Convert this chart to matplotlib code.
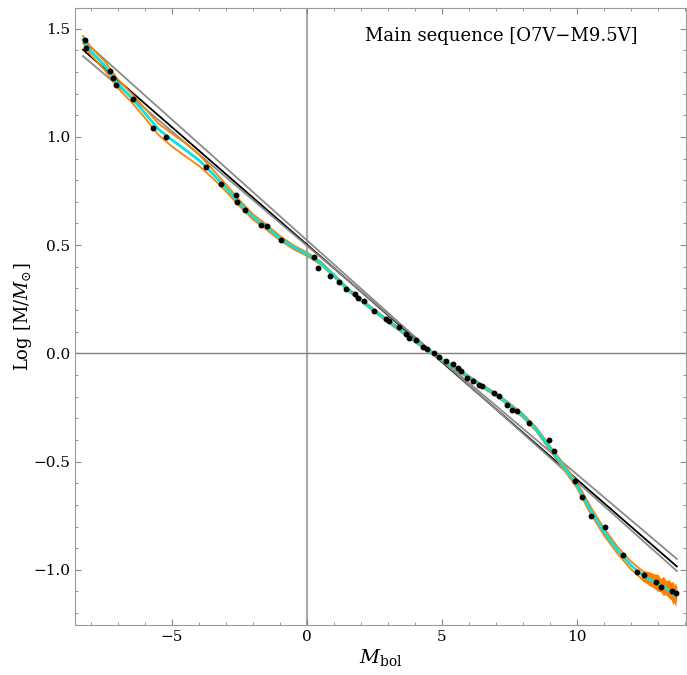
import numpy as np
import matplotlib.pyplot as plt
from matplotlib.ticker import MultipleLocator

plt.rcParams['font.family'] = ['DejaVu Serif']
plt.rcParams['mathtext.fontset'] = 'dejavuserif'

# observed main-sequence points (Mbol, log M/Msun)
mbol = [-8.24, -8.17, -7.30, -7.20, -7.06, -6.43, -5.70, -5.23, -3.75, -3.20,
        -2.64, -2.58, -2.30, -1.69, -1.49, -0.95, 0.27, 0.40, 0.84, 1.19,
        1.43, 1.78, 1.87, 2.11, 2.48, 2.91, 3.04, 3.41, 3.68, 3.78,
        4.03, 4.30, 4.46, 4.70, 4.89, 5.14, 5.40, 5.60, 5.69, 5.94,
        6.13, 6.37, 6.49, 6.92, 7.11, 7.42, 7.60, 7.79, 8.22, 8.96,
        9.15, 9.93, 10.20, 10.51, 11.02, 11.69, 12.21, 12.48, 12.91, 13.12,
        13.53, 13.66]
logm = [1.448, 1.410, 1.305, 1.272, 1.238, 1.175, 1.039, 1.000, 0.861, 0.784,
        0.730, 0.699, 0.663, 0.595, 0.590, 0.525, 0.447, 0.393, 0.356, 0.330,
        0.297, 0.273, 0.258, 0.243, 0.196, 0.158, 0.150, 0.121, 0.088, 0.073,
        0.060, 0.031, 0.019, 0.000, -0.015, -0.036, -0.051, -0.066, -0.082, -0.115,
        -0.128, -0.145, -0.152, -0.182, -0.198, -0.237, -0.260, -0.268, -0.320, -0.400,
        -0.453, -0.590, -0.665, -0.751, -0.801, -0.930, -1.010, -1.023, -1.056, -1.079,
        -1.098, -1.108]

# smooth fit (cyan) and its band half-width (orange)
fit_x = [-8.3, -8.0, -7.5, -7.0, -6.5, -6.0, -5.5, -5.0, -4.5, -4.0,
         -3.5, -3.0, -2.5, -2.0, -1.5, -1.0, -0.5, 0.0, 0.5, 1.0,
         1.5, 2.0, 2.5, 3.0, 3.5, 4.0, 4.5, 5.0, 5.5, 6.0,
         6.5, 7.0, 7.5, 8.0, 8.5, 9.0, 9.5, 10.0, 10.5, 11.0,
         11.5, 12.0, 12.5, 13.0, 13.5, 13.6]
fit_y = [1.450, 1.395, 1.330, 1.245, 1.180, 1.109, 1.035, 0.985, 0.940, 0.892,
         0.830, 0.764, 0.694, 0.630, 0.583, 0.532, 0.490, 0.458, 0.418, 0.359,
         0.297, 0.247, 0.196, 0.150, 0.103, 0.057, 0.015, -0.031, -0.070, -0.110,
         -0.152, -0.190, -0.237, -0.288, -0.352, -0.438, -0.522, -0.608, -0.724, -0.824,
         -0.909, -0.979, -1.033, -1.064, -1.102, -1.120]
band_w = [0.016, 0.018, 0.020, 0.020, 0.020, 0.022, 0.026, 0.030, 0.030, 0.026,
          0.020, 0.016, 0.014, 0.012, 0.012, 0.010, 0.009, 0.008, 0.007, 0.006,
          0.006, 0.006, 0.006, 0.006, 0.006, 0.006, 0.006, 0.006, 0.006, 0.006,
          0.006, 0.007, 0.007, 0.008, 0.009, 0.010, 0.012, 0.014, 0.016, 0.016,
          0.016, 0.018, 0.020, 0.024, 0.028, 0.030]

# ragged end of the orange band
tail_x = [12.4, 12.55, 12.7, 12.8, 12.9, 13.0, 13.1, 13.2, 13.3, 13.4,
          13.5, 13.55, 13.6, 13.65, 13.7]
tail_hi = [-1.000, -1.005, -1.010, -1.015, -1.020, -1.020, -1.040, -1.030, -1.050, -1.045,
           -1.060, -1.050, -1.070, -1.060, -1.080]
tail_lo = [-1.050, -1.060, -1.075, -1.080, -1.090, -1.100, -1.100, -1.120, -1.110, -1.130,
           -1.140, -1.160, -1.150, -1.170, -1.130]

# linear fits: central (black) and the two bounding ones (gray)
lin_range = [-8.3, 13.7]
lin_slope = [-0.1085, -0.1115, -0.1056]
lin_icept = [0.502, 0.522, 0.497]
lin_color = ['black', '#8a8a8a', '#8a8a8a']

fig = plt.figure(figsize=(6.87, 6.75), dpi=100)
ax = fig.add_axes([0.109, 0.074, 0.890, 0.914])

ax.axvline(0, color='#aaaaaa', lw=1.6, zorder=1)
ax.axhline(0, color='#808080', lw=1.0, zorder=1)

xl = np.array(lin_range)
for b, a, c in zip(lin_slope, lin_icept, lin_color):
    ax.plot(xl, a + b * xl, color=c, lw=1.3, zorder=2)

fx = np.array(fit_x)
fy = np.array(fit_y)
fw = np.array(band_w)
ax.fill_between(tail_x, tail_lo, tail_hi, color='#ff8000', lw=0, zorder=3)
ax.plot(fx, fy + fw, color='#ff8000', lw=1.3, zorder=3)
ax.plot(fx, fy - fw, color='#ff8000', lw=1.3, zorder=3)
ax.plot(fx, fy, color='#00e5e5', lw=2.0, zorder=4)

ax.plot(mbol, logm, 'o', color='black', ms=3.2, zorder=5)

ax.set_xlim(-8.6, 14.05)
ax.set_ylim(-1.255, 1.595)
ax.xaxis.set_major_locator(MultipleLocator(5))
ax.xaxis.set_minor_locator(MultipleLocator(1))
ax.yaxis.set_major_locator(MultipleLocator(0.5))
ax.yaxis.set_minor_locator(MultipleLocator(0.1))
ax.tick_params(which='both', direction='in', top=True, right=True,
               color='#888888', labelsize=11)
ax.tick_params(which='major', length=4)
ax.tick_params(which='minor', length=2.5)
for s in ax.spines.values():
    s.set_color('#999999')

ax.set_xlabel(r'$M_{\mathrm{bol}}$', fontsize=14, labelpad=2)
ax.set_ylabel(r'Log [M/$M_{\odot}$]', fontsize=13, labelpad=-1)
ax.text(0.92, 0.955, 'Main sequence [O7V\u2212M9.5V]', transform=ax.transAxes,
        ha='right', va='center', fontsize=13)

fig.savefig('out.png', dpi=100)
